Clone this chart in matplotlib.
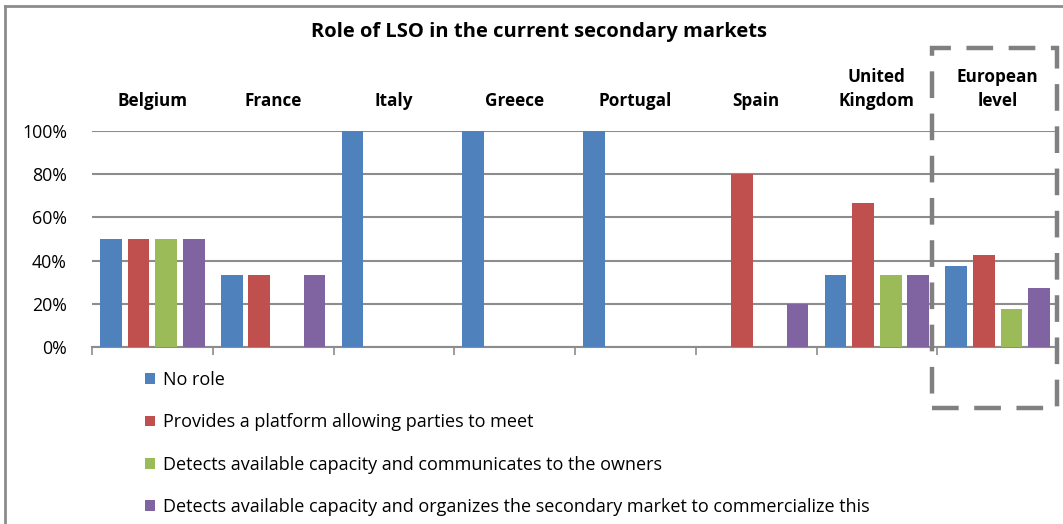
import matplotlib.pyplot as plt
import numpy as np
from matplotlib.patches import Rectangle
from matplotlib.lines import Line2D

plt.rcParams['font.family'] = ['Open Sans', 'DejaVu Sans']

countries = ["Belgium", "France", "Italy", "Greece", "Portugal", "Spain",
             "United\nKingdom", "European\nlevel"]
series_names = ["No role",
                "Provides a platform allowing parties to meet",
                "Detects available capacity and communicates to the owners",
                "Detects available capacity and organizes the secondary market to commercialize this"]
no_role = [50, 33.3, 100, 100, 100, 0, 33.3, 37.5]
platform = [50, 33.3, 0, 0, 0, 80, 66.7, 42.5]
communicates = [50, 0, 0, 0, 0, 0, 33.3, 17.5]
organizes = [50, 33.3, 0, 0, 0, 20, 33.3, 27.5]
colors = ["#4F81BD", "#C0504D", "#9BBB59", "#8064A2"]

fig = plt.figure(figsize=(10.63, 5.24), dpi=100)
ax = fig.add_axes([92 / 1063, 1 - 347 / 524, 966 / 1063, 216 / 524])

x = np.arange(len(countries))
step = 0.228
width = 0.18
all_vals = [no_role, platform, communicates, organizes]
for i, vals in enumerate(all_vals):
    ax.bar(x + (i - 1.5) * step, np.array(vals) / 100, width, color=colors[i],
           label=series_names[i], zorder=3)

ax.set_xlim(-0.5, len(countries) - 0.5)
ax.set_ylim(0, 1.0)
ax.set_yticks(np.arange(0, 1.01, 0.2))
ax.set_yticklabels([f"{int(v * 100)}%" for v in np.arange(0, 1.01, 0.2)], fontsize=12.8)
ax.yaxis.grid(True, color="#8C8C8C", linewidth=1.5, zorder=0)
ax.tick_params(axis='y', length=0, pad=18)
ax.set_xticks(np.arange(-0.5, len(countries), 1.0))
ax.set_xticklabels([])
ax.tick_params(axis='x', length=6, width=1.2, color="#8C8C8C", direction='out')
for s in ["top", "right", "left"]:
    ax.spines[s].set_visible(False)
ax.spines["bottom"].set_color("#8C8C8C")
ax.spines["bottom"].set_linewidth(1.5)

# country names above each group
for xi, name in zip(x, countries):
    ax.text(xi, 1.095, name, ha='center', va='bottom', fontsize=12.3,
            fontweight='bold', linespacing=1.45, transform=ax.transData, clip_on=False)

fig.text(539 / 1063, 1 - 32 / 524, "Role of LSO in the current secondary markets",
         ha='center', va='center', fontsize=14.5, fontweight='bold')

# dashed frame around the European level group
fig.add_artist(Rectangle((932 / 1063, 1 - 408 / 524), 125 / 1063, 360 / 524,
                         transform=fig.transFigure, fill=False, edgecolor="#808080",
                         linewidth=3.2, linestyle=(0, (6, 3.5))))

# chart border (top and left edges)
fig.add_artist(Line2D([5 / 1063, 5 / 1063], [0, 1 - 6 / 524], transform=fig.transFigure,
                      color="#8C8C8C", linewidth=2))
fig.add_artist(Line2D([5 / 1063, 1], [1 - 6 / 524, 1 - 6 / 524], transform=fig.transFigure,
                      color="#8C8C8C", linewidth=2))

fig.legend(loc='upper left', bbox_to_anchor=(145 / 1063, 1 - 371 / 524), frameon=False,
           fontsize=13, handlelength=0.55, handleheight=0.55, handletextpad=0.45,
           labelspacing=1.35, borderaxespad=0, borderpad=0)

fig.savefig("out.png", dpi=100)
